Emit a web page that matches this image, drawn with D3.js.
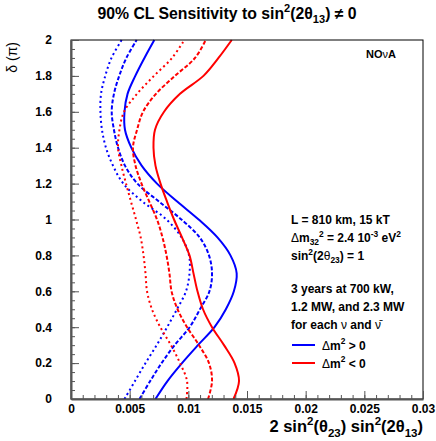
<!DOCTYPE html>
<html>
<head>
<meta charset="utf-8">
<script src="https://cdn.jsdelivr.net/npm/d3@7.9.0/dist/d3.min.js"></script>
<style>
  body { margin: 0; background: #fff; }
  svg { display: block; font-family: "Liberation Sans", Arial, Helvetica, sans-serif; font-weight: bold; }
</style>
</head>
<body>
<svg id="chart" width="436" height="441"></svg>
<script>
// delta (in units of pi) where the curves were read
const deltas = [0, 0.1, 0.2, 0.3, 0.4, 0.5, 0.6, 0.7, 0.8, 0.9, 1.0,
                1.1, 1.2, 1.3, 1.4, 1.5, 1.6, 1.7, 1.8, 1.9, 2.0];

// sensitivity, 2 sin^2(th23) sin^2(2th13), units of 1e-3
const bluePos700 = [7.20, 8.22, 9.46, 10.82, 12.23, 13.20, 13.88, 14.12, 13.59, 12.48, 10.88,
                    9.05, 7.33, 6.02, 5.14, 4.60, 4.56, 4.82, 5.48, 6.26, 7.10];
const bluePos1200 = [5.84, 6.75, 7.72, 8.83, 10.11, 10.99, 11.80, 12.02, 11.76, 10.97, 9.41,
                     7.50, 5.66, 4.60, 4.01, 3.66, 3.47, 3.66, 4.11, 4.72, 5.60];
const bluePos2300 = [4.56, 5.45, 6.35, 7.30, 8.19, 9.03, 9.80, 10.10, 10.06, 9.42, 8.14,
                     6.09, 4.46, 3.58, 2.98, 2.64, 2.51, 2.56, 2.92, 3.45, 4.32];
const redNeg700 = [13.85, 14.32, 13.94, 13.04, 12.02, 11.25, 10.78, 10.44, 10.10, 9.46, 8.78,
                   8.18, 7.63, 7.20, 7.03, 7.16, 7.93, 9.29, 11.29, 12.57, 13.70];
const redNeg1200 = [11.68, 12.02, 11.76, 10.91, 9.89, 9.08, 8.57, 8.39, 8.14, 7.80, 7.33,
                    6.67, 6.01, 5.50, 5.28, 5.63, 6.14, 7.24, 8.86, 10.57, 11.48];
const redNeg2300 = [9.84, 9.89, 9.29, 8.52, 7.61, 6.90, 6.48, 6.35, 6.18, 5.94, 5.54,
                    5.11, 4.69, 4.30, 4.01, 4.13, 4.52, 5.63, 7.07, 8.61, 9.66];

const xTicks = [0, 0.005, 0.01, 0.015, 0.02, 0.025, 0.03];
const yTicks = [0, 0.2, 0.4, 0.6, 0.8, 1, 1.2, 1.4, 1.6, 1.8, 2];

const series = [
  { vals: bluePos700, color: '#0000ff', dash: null },
  { vals: bluePos1200, color: '#0000ff', dash: '4,2' },
  { vals: bluePos2300, color: '#0000ff', dash: '2,3' },
  { vals: redNeg700, color: '#ff0000', dash: null },
  { vals: redNeg1200, color: '#ff0000', dash: '4,2' },
  { vals: redNeg2300, color: '#ff0000', dash: '2,3' },
];

const svg = d3.select('#chart');
const padL = 71, padR = 423, padT = 40, padB = 399;

let x = d3.scaleLinear().domain([0, 0.03]).range([padL, padR]);
let y = d3.scaleLinear().domain([0, 2]).range([padB, padT]);

// rich text helper: parts = [[string, kind]], kind in n / sup / sub / g
function rich(g, px, py, parts, size, anchor) {
  let t = g.append('text')
    .attr('x', px).attr('y', py)
    .attr('font-size', size)
    .attr('text-anchor', anchor || 'start');
  let shift = 0;
  parts.forEach(([s, kind]) => {
    let target = kind === 'sup' ? -0.42 * size : kind === 'sub' ? 0.28 * size : 0;
    let ts = t.append('tspan').attr('dy', target - shift).text(s);
    shift = target;
    if (kind === 'sup' || kind === 'sub') ts.attr('font-size', size * 0.7);
    if (kind === 'g') ts.attr('font-weight', 'normal');
  });
  return t;
}

// curves
let line = d3.line()
  .x(d => x(d[0] / 1000))
  .y(d => y(d[1]))
  .curve(d3.curveCatmullRom);

series.forEach(s => {
  let pts = s.vals.map((v, i) => [v, deltas[i]]);
  svg.append('path')
    .attr('d', line(pts))
    .attr('fill', 'none')
    .attr('stroke', s.color)
    .attr('stroke-width', 2)
    .attr('stroke-dasharray', s.dash);
});

// frame
svg.append('rect')
  .attr('x', padL).attr('y', padT)
  .attr('width', padR - padL).attr('height', padB - padT)
  .attr('fill', 'none').attr('stroke', '#000').attr('stroke-width', 1);

// x axis
let xAxis = d3.axisBottom(x).tickValues(xTicks).tickSizeInner(-8).tickSizeOuter(0)
  .tickFormat(d => d === 0 ? '0' : d3.format('~g')(d));
let gx = svg.append('g').attr('transform', `translate(0,${padB})`).call(xAxis);
gx.select('.domain').attr('stroke', '#555').attr('stroke-width', 2);
gx.selectAll('text').attr('font-size', 12).attr('font-weight', 'bold').attr('font-family', null).attr('dy', '0.95em').attr('fill', '#000');
gx.selectAll('.tick line').attr('stroke', '#555');
let xMinor = d3.axisBottom(x).ticks(30).tickSizeInner(-4).tickSizeOuter(0).tickFormat('');
let gxm = svg.append('g').attr('transform', `translate(0,${padB})`).call(xMinor);
gxm.select('.domain').remove();
gxm.selectAll('.tick line').attr('stroke', '#555');

// y axis
let yAxis = d3.axisLeft(y).tickValues(yTicks).tickSizeInner(-8).tickSizeOuter(0)
  .tickPadding(19).tickFormat(d3.format('~g'));
let gy = svg.append('g').attr('transform', `translate(${padL},0)`).call(yAxis);
gy.select('.domain').attr('stroke', '#555').attr('stroke-width', 2);
gy.selectAll('text').attr('font-size', 12).attr('font-weight', 'bold').attr('font-family', null).attr('fill', '#000');
gy.selectAll('.tick line').attr('stroke', '#555');
let yMinor = d3.axisLeft(y).ticks(40).tickSizeInner(-4).tickSizeOuter(0).tickFormat('');
let gym = svg.append('g').attr('transform', `translate(${padL},0)`).call(yMinor);
gym.select('.domain').remove();
gym.selectAll('.tick line').attr('stroke', '#555');

// title and axis titles
rich(svg, 227, 19, [['90% CL Sensitivity to sin', 'n'], ['2', 'sup'], ['(2θ', 'n'], ['13', 'sub'], [') ≠ 0', 'n']], 15.8, 'middle');

let yl = svg.append('g').attr('transform', 'translate(17,42) rotate(-90)');
rich(yl, 0, 0, [['δ (π)', 'g']], 14, 'end');

rich(svg, 423, 432, [['2 sin', 'n'], ['2', 'sup'], ['(θ', 'n'], ['23', 'sub'], [') sin', 'n'], ['2', 'sup'], ['(2θ', 'n'], ['13', 'sub'], [')', 'n']], 16.5, 'end');

// experiment tag
rich(svg, 366, 58, [['NO', 'n'], ['ν', 'g'], ['A', 'n']], 11, 'start');

// annotation block
let ax = 291;
rich(svg, ax, 224, [['L = 810 km, 15 kT', 'n']], 12);
rich(svg, ax, 242, [['Δ', 'g'], ['m', 'n'], ['32', 'sub'], ['2', 'sup'], [' = 2.4 10', 'n'], ['-3', 'sup'], [' eV', 'n'], ['2', 'sup']], 12);
rich(svg, ax, 260, [['sin', 'n'], ['2', 'sup'], ['(2', 'n'], ['θ', 'g'], ['23', 'sub'], [') = 1', 'n']], 12);
rich(svg, ax, 293, [['3 years at 700 kW,', 'n']], 12);
rich(svg, ax, 311, [['1.2 MW, and 2.3 MW', 'n']], 12);
rich(svg, ax, 329, [['for each ', 'n'], ['ν', 'g'], [' and ', 'n'], ['ν\u0304', 'g']], 12);

const legendItems = [
  { color: '#0000ff', parts: [['Δ', 'g'], ['m', 'n'], ['2', 'sup'], [' > 0', 'n']] },
  { color: '#ff0000', parts: [['Δ', 'g'], ['m', 'n'], ['2', 'sup'], [' < 0', 'n']] },
];
legendItems.forEach((d, i) => {
  let ly = 345 + i * 18;
  svg.append('line').attr('x1', 292).attr('x2', 315).attr('y1', ly).attr('y2', ly)
    .attr('stroke', d.color).attr('stroke-width', 2);
  rich(svg, 322, ly + 4.5, d.parts, 12);
});
</script>
</body>
</html>
